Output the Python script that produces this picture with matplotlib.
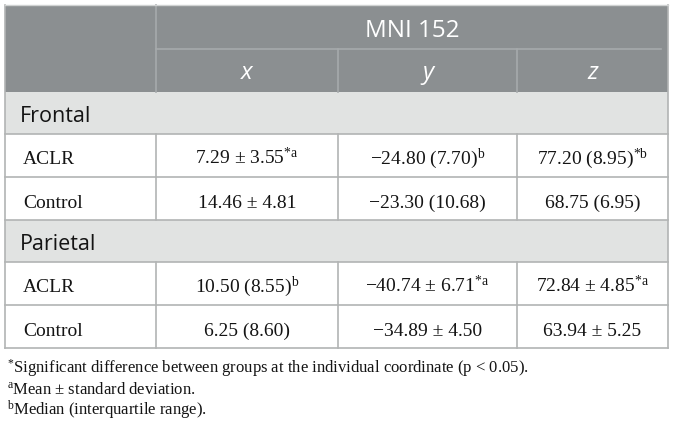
import matplotlib
matplotlib.use('Agg')
import matplotlib.pyplot as plt
from matplotlib.patches import Rectangle

plt.rcParams['mathtext.fontset'] = 'custom'
plt.rcParams['mathtext.rm'] = 'Liberation Serif'
plt.rcParams['mathtext.it'] = 'Liberation Serif:italic'

# table content
header_top = 'MNI 152'
coord_labels = ['x', 'y', 'z']
groups = ['Frontal', 'Parietal']
subjects = ['ACLR', 'Control']

frontal_vals = [['7.29 ± 3.55', '−24.80 (7.70)', '77.20 (8.95)'],
                ['14.46 ± 4.81', '−23.30 (10.68)', '68.75 (6.95)']]
frontal_sup = [['*a', 'b', '*b'],
               ['', '', '']]
parietal_vals = [['10.50 (8.55)', '−40.74 ± 6.71', '72.84 ± 4.85'],
                 ['6.25 (8.60)', '−34.89 ± 4.50', '63.94 ± 5.25']]
parietal_sup = [['b', '*a', '*a'],
                ['', '', '']]

note_marks = ['*', 'a', 'b']
note_texts = ['Significant difference between groups at the individual coordinate (p < 0.05).',
              'Mean ± standard deviation.',
              'Median (interquartile range).']

# layout (pixels)
col_x = [5, 156, 338, 517, 668]
head_y = [5, 49, 92]
band_h = 42
row_h = 43

dark = '#8b8f91'
light = '#e1e3e2'
grid = '#b2b4b4'
head_line = '#a6aaac'
txt = '#141414'

fig = plt.figure(figsize=(6.74, 4.32), dpi=100)
ax = fig.add_axes([0, 0, 1, 1])
ax.set_xlim(0, 674)
ax.set_ylim(432, 0)
ax.axis('off')

# header
ax.add_patch(Rectangle((col_x[0], head_y[0]), col_x[-1] - col_x[0], head_y[2] - head_y[0],
                       facecolor=dark, edgecolor='none'))
ax.plot([col_x[1], col_x[1]], [head_y[0], head_y[2]], color=head_line, lw=1.2)
ax.plot([col_x[1], col_x[-1] - 7], [head_y[1], head_y[1]], color=head_line, lw=1.2)
for i in range(2, 4):
    ax.plot([col_x[i], col_x[i]], [head_y[1], head_y[2]], color=head_line, lw=1.2)
ax.text((col_x[1] + col_x[-1]) / 2, 37, header_top, ha='center', va='baseline',
        fontsize=17.5, family='Open Sans', color='white')
for i, lab in enumerate(coord_labels):
    ax.text((col_x[i + 1] + col_x[i + 2]) / 2, 79, lab, ha='center', va='baseline',
            fontsize=17.5, family='Open Sans', style='italic', color='white')

y = head_y[2]
for g, vals, sups in zip(groups, [frontal_vals, parietal_vals], [frontal_sup, parietal_sup]):
    ax.add_patch(Rectangle((col_x[0], y), col_x[-1] - col_x[0], band_h,
                           facecolor=light, edgecolor='none'))
    ax.text(20, y + 30, g, ha='left', va='baseline', fontsize=15.5,
            family='Open Sans', color=txt)
    ax.plot([col_x[0], col_x[-1]], [y + band_h, y + band_h], color=grid, lw=1.2)
    y += band_h
    for r, subj in enumerate(subjects):
        ax.text(23, y + 30.5, subj, ha='left', va='baseline', fontsize=14,
                family='Liberation Serif', color=txt)
        for c in range(3):
            s = vals[r][c]
            if sups[r][c]:
                s = s + r'$^{\mathrm{' + sups[r][c] + '}}$'
            ax.text((col_x[c + 1] + col_x[c + 2]) / 2, y + 30.5, s, ha='center',
                    va='baseline', fontsize=14, family='Liberation Serif', color=txt)
        for i in range(1, 4):
            ax.plot([col_x[i], col_x[i]], [y, y + row_h], color=grid, lw=1.2)
        ax.plot([col_x[0], col_x[-1]], [y + row_h, y + row_h], color=grid, lw=1.2)
        y += row_h

# outer borders
ax.plot([col_x[0], col_x[0]], [head_y[0], y], color=grid, lw=1.2)
ax.plot([col_x[-1], col_x[-1]], [head_y[0], y], color=grid, lw=1.2)
ax.plot([col_x[0], col_x[-1]], [head_y[0], head_y[0]], color='#d0d2d2', lw=1.0)

# footnotes
for k, (m, t) in enumerate(zip(note_marks, note_texts)):
    ax.text(7, 373 + 21 * k, r'$^{\mathrm{' + m + '}}$' + t, ha='left', va='baseline',
            fontsize=12, family='Liberation Serif', color=txt)

fig.savefig('out.png', dpi=100)
